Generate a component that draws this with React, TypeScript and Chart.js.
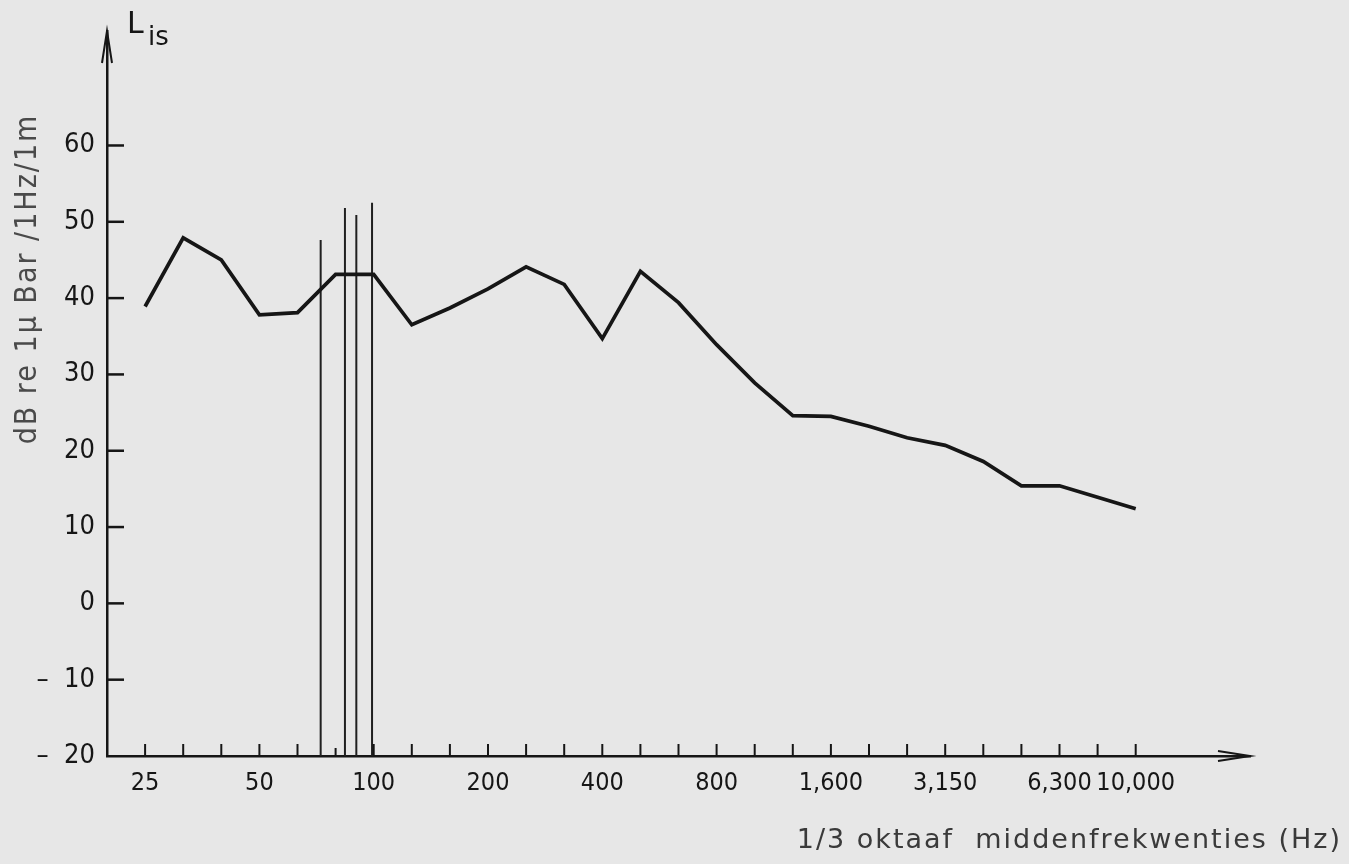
import React, { useEffect, useRef } from "react";
import { Chart, registerables } from "chart.js";

Chart.register(...registerables);

// 1/3-octave band centre frequencies (Hz)
const bandFrequencies = [
  25, 31.5, 40, 50, 63, 80, 100, 125, 160, 200, 250, 315, 400, 500, 630, 800,
  1000, 1250, 1600, 2000, 2500, 3150, 4000, 5000, 6300, 8000, 10000,
];
// L_is level per band (dB re 1 µBar / 1Hz / 1m)
const levels = [
  38.9, 47.9, 45.0, 37.8, 38.1, 43.1, 43.1, 36.5, 38.7, 41.2, 44.1, 41.8, 34.7,
  43.5, 39.4, 33.9, 28.9, 24.6, 24.5, 23.2, 21.7, 20.7, 18.6, 15.4, 15.4, 13.9,
  12.4,
];
// labelled bands on the frequency axis
const labeledBands = [25, 50, 100, 200, 400, 800, 1600, 3150, 6300, 10000];
const labeledBandText = ["25", "50", "100", "200", "400", "800", "1,600", "3,150", "6,300", "10,000"];
// tonal components (vertical lines)
const toneFrequencies = [72.5, 84, 90, 99];
const toneLevels = [47.6, 51.8, 50.9, 52.5];
// level axis
const yTickValues = [-20, -10, 0, 10, 20, 30, 40, 50, 60];
const yMin = -20;
const yMax = 75;

const yTitle = "dB re 1μ Bar /1Hz/1m";
const xTitle = "1/3 oktaaf  middenfrekwenties (Hz)";
const topLabelMain = "L";
const topLabelSub = "is";

const INK = "#161616";
const PAPER = "#e7e7e7";
const FONT = "'DejaVu Sans Condensed', 'DejaVu Sans', sans-serif";
const FONT_WIDE = "'DejaVu Sans', sans-serif";

const bandIndex = (f: number) => 3 * Math.log2(f / bandFrequencies[0]);

const decorPlugin = {
  id: "decor",
  beforeDraw(chart: any) {
    const { ctx, width, height } = chart;
    ctx.save();
    ctx.fillStyle = PAPER;
    ctx.fillRect(0, 0, width, height);
    ctx.restore();
  },
  afterDraw(chart: any) {
    const { ctx } = chart;
    const xs = chart.scales.x;
    const ys = chart.scales.y;
    const { left, right, top, bottom } = chart.chartArea;
    ctx.save();
    ctx.strokeStyle = INK;
    ctx.lineCap = "butt";
    // inward tick marks
    ctx.lineWidth = 2;
    xs.ticks.forEach((t: any) => {
      const px = xs.getPixelForValue(t.value);
      const len = bandFrequencies[t.value] === 80 ? 8 : 12;
      ctx.beginPath();
      ctx.moveTo(px, bottom);
      ctx.lineTo(px, bottom - len);
      ctx.stroke();
    });
    ctx.lineWidth = 2.5;
    ys.ticks.forEach((t: any) => {
      if (t.value === yMin) return;
      const py = ys.getPixelForValue(t.value);
      ctx.beginPath();
      ctx.moveTo(left, py);
      ctx.lineTo(left + 17, py);
      ctx.stroke();
    });
    // arrows
    ctx.lineWidth = 2;
    ctx.beginPath();
    ctx.moveTo(right - 32, bottom - 5);
    ctx.lineTo(right, bottom);
    ctx.lineTo(right - 32, bottom + 5);
    ctx.stroke();
    ctx.beginPath();
    ctx.moveTo(left - 5, top + 32);
    ctx.lineTo(left, top);
    ctx.lineTo(left + 5, top + 32);
    ctx.stroke();

    // L_is label
    ctx.fillStyle = INK;
    ctx.textBaseline = "alphabetic";
    ctx.textAlign = "left";
    ctx.font = `30px ${FONT_WIDE}`;
    ctx.fillText(topLabelMain, 127, 33);
    ctx.font = `26px ${FONT_WIDE}`;
    ctx.fillText(topLabelSub, 148, 45);

    // y title
    ctx.save();
    ctx.fillStyle = "#4a4a4a";
    ctx.font = `30px ${FONT}`;
    (ctx as any).letterSpacing = "2px";
    ctx.translate(28, 279);
    ctx.rotate(-Math.PI / 2);
    ctx.textAlign = "center";
    ctx.textBaseline = "middle";
    ctx.fillText(yTitle, 0, 0);
    ctx.restore();

    // x title
    ctx.save();
    ctx.fillStyle = "#3a3a3a";
    ctx.font = `27px ${FONT_WIDE}`;
    (ctx as any).letterSpacing = "2px";
    ctx.textAlign = "right";
    ctx.textBaseline = "middle";
    ctx.fillText(xTitle, 1342, 841);
    ctx.restore();
    ctx.restore();
  },
};

export default function App() {
  const canvasRef = useRef<HTMLCanvasElement | null>(null);

  useEffect(() => {
    document.body.style.margin = "0";
    const canvas = canvasRef.current;
    if (!canvas) return;

    const mainData = bandFrequencies.map((f, i) => ({ x: i, y: levels[i] }));
    const toneSets = toneFrequencies.map((f, i) => ({
      data: [
        { x: bandIndex(f), y: yMin },
        { x: bandIndex(f), y: toneLevels[i] },
      ],
      borderColor: "#202020",
      borderWidth: 2,
      pointRadius: 0,
      fill: false,
    }));

    const chart = new Chart(canvas, {
      type: "line",
      data: {
        datasets: [
          {
            data: mainData,
            borderColor: INK,
            borderWidth: 3.7,
            pointRadius: 0,
            tension: 0,
            fill: false,
            borderJoinStyle: "miter",
          } as any,
          ...toneSets,
        ],
      },
      plugins: [decorPlugin],
      options: {
        responsive: false,
        maintainAspectRatio: false,
        animation: false,
        events: [],
        layout: { padding: { left: 0, top: 31, right: 99, bottom: 0 } },
        plugins: { legend: { display: false }, tooltip: { enabled: false } },
        scales: {
          x: {
            type: "linear",
            min: -1,
            max: 29,
            grid: { display: false, drawTicks: false },
            border: { display: true, color: INK, width: 2.5 },
            afterBuildTicks: (s: any) => {
              s.ticks = bandFrequencies.map((_, i) => ({ value: i }));
            },
            afterFit: (s: any) => {
              s.height = 108;
            },
            ticks: {
              autoSkip: false,
              maxRotation: 0,
              minRotation: 0,
              padding: 12,
              color: INK,
              font: { family: FONT, size: 25 },
              callback: (v: any) => {
                const f = bandFrequencies[v as number];
                const k = labeledBands.indexOf(f);
                return k >= 0 ? labeledBandText[k] : "";
              },
            },
          },
          y: {
            type: "linear",
            min: yMin,
            max: yMax,
            grid: { display: false, drawTicks: false },
            border: { display: true, color: INK, width: 2.5 },
            afterBuildTicks: (s: any) => {
              s.ticks = yTickValues.map((v) => ({ value: v }));
            },
            afterFit: (s: any) => {
              s.width = 107;
            },
            ticks: {
              padding: 12,
              color: INK,
              font: { family: FONT, size: 27 },
              callback: (v: any) => (v < 0 ? "–  " + Math.abs(v) : String(v)),
            },
          },
        },
      },
    });

    return () => chart.destroy();
  }, []);

  return (
    <div style={{ width: 1349, height: 864 }}>
      <canvas ref={canvasRef} width={1349} height={864} style={{ display: "block", width: 1349, height: 864 }} />
    </div>
  );
}
